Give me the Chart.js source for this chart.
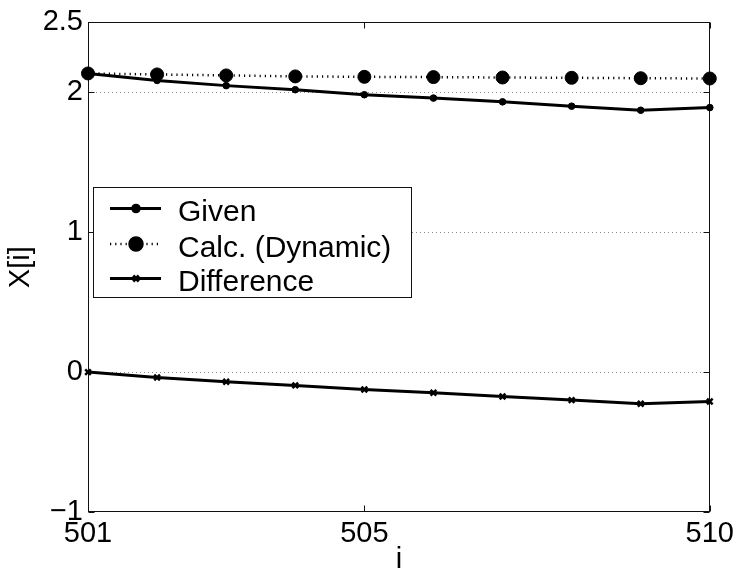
<!DOCTYPE html>
<html><head><meta charset="utf-8">
<script src="https://cdn.jsdelivr.net/npm/chart.js@4"></script>
<style>html,body{margin:0;padding:0;background:#fff}#c{display:block}</style>
</head><body>
<canvas id="c" width="739" height="577"></canvas>
<script>
const indices = [501, 502, 503, 504, 505, 506, 507, 508, 509, 510];
const given   = [2.135, 2.085, 2.048, 2.019, 1.983, 1.959, 1.932, 1.901, 1.872, 1.891];
const calc    = [2.135, 2.128, 2.121, 2.114, 2.111, 2.109, 2.106, 2.104, 2.101, 2.099];
const diff    = [0.000, -0.038, -0.069, -0.095, -0.124, -0.148, -0.174, -0.200, -0.226, -0.210];
const xTicks = [501, 505, 510];
const yTicks = [-1, 0, 1, 2, 2.5];
const gridValues = [0, 1, 2];
const seriesNames = ['Given', 'Calc. (Dynamic)', 'Difference'];
const xTitle = 'i';
const yTitle = 'X[i]';

const FONT = "'Liberation Sans', Arial, Helvetica, sans-serif";
const pts = arr => arr.map((v, i) => ({x: indices[i], y: v}));

const styles = [
  {borderColor:'#000', backgroundColor:'#000', borderWidth:3, borderDash:[], pointStyle:'circle', pointRadius:3.3, pointBorderWidth:1},
  {borderColor:'#000', backgroundColor:'#000', borderWidth:2.5, borderDash:[1.2,4], pointStyle:'circle', pointRadius:6.5, pointBorderWidth:1},
  {borderColor:'#000', backgroundColor:'#000', borderWidth:3, borderDash:[], pointStyle:'crossRot', pointRadius:4, pointBorderWidth:2.5}
];

const framePlugin = {
  id: 'frame',
  beforeDatasetsDraw(chart) {
    const {ctx, chartArea: a, scales: {x, y}} = chart;
    ctx.save();
    ctx.strokeStyle = '#8a8a8a'; ctx.lineWidth = 1; ctx.setLineDash([1, 3]);
    gridValues.forEach(v => {
      const py = Math.round(y.getPixelForValue(v)) + 0.5;
      ctx.beginPath(); ctx.moveTo(a.left, py); ctx.lineTo(a.right, py); ctx.stroke();
    });
    ctx.setLineDash([]);
    ctx.strokeStyle = '#111'; ctx.lineWidth = 1;
    const L = Math.round(a.left) + 0.5, R = Math.round(a.right) - 0.5, T = Math.round(a.top) + 0.5, B = Math.round(a.bottom) - 0.5;
    ctx.strokeRect(L, T, R - L, B - T);
    const tl = 6;
    ctx.beginPath();
    xTicks.forEach(v => {
      const px = Math.round(x.getPixelForValue(v)) + 0.5;
      ctx.moveTo(px, B); ctx.lineTo(px, B - tl);
      ctx.moveTo(px, T); ctx.lineTo(px, T + tl);
    });
    yTicks.forEach(v => {
      const py = Math.round(y.getPixelForValue(v)) + 0.5;
      ctx.moveTo(L, py); ctx.lineTo(L + tl, py);
      ctx.moveTo(R, py); ctx.lineTo(R - tl, py);
    });
    ctx.stroke();
    ctx.restore();
  },
  afterDraw(chart) {
    const {ctx} = chart;
    const box = {l: 93, t: 187, r: 412, b: 298};
    ctx.save();
    ctx.fillStyle = '#fff';
    ctx.fillRect(box.l, box.t, box.r - box.l, box.b - box.t);
    ctx.strokeStyle = '#111'; ctx.lineWidth = 1;
    ctx.strokeRect(box.l + 0.5, box.t + 0.5, box.r - box.l - 1, box.b - box.t - 1);
    const rows = [208.5, 244, 278.5];
    rows.forEach((ry, i) => {
      const s = styles[i];
      ctx.save();
      ctx.strokeStyle = s.borderColor; ctx.lineWidth = s.borderWidth; ctx.setLineDash(s.borderDash);
      ctx.beginPath(); ctx.moveTo(110, ry); ctx.lineTo(161, ry); ctx.stroke();
      ctx.setLineDash([]);
      ctx.fillStyle = '#000'; ctx.strokeStyle = '#000';
      Chart.helpers.drawPoint(ctx, {pointStyle: s.pointStyle, radius: s.pointRadius, borderWidth: s.pointBorderWidth, rotation: 0}, 136, ry);
      ctx.restore();
      ctx.fillStyle = '#000';
      ctx.font = '30px ' + FONT;
      ctx.textBaseline = 'alphabetic'; ctx.textAlign = 'left';
      ctx.fillText(seriesNames[i], 178, ry + 12.5);
    });
    ctx.restore();
  }
};

new Chart(document.getElementById('c'), {
  type: 'line',
  data: {
    datasets: [given, calc, diff].map((arr, i) => ({
      label: seriesNames[i],
      data: pts(arr),
      borderColor: styles[i].borderColor,
      backgroundColor: styles[i].backgroundColor,
      borderWidth: styles[i].borderWidth,
      borderDash: styles[i].borderDash,
      pointStyle: styles[i].pointStyle,
      pointRadius: styles[i].pointRadius,
      pointBorderWidth: styles[i].pointBorderWidth,
      pointBackgroundColor: '#000',
      pointBorderColor: '#000',
      tension: 0,
      fill: false,
      clip: false,
      order: i === 1 ? 0 : 1
    }))
  },
  options: {
    responsive: false,
    animation: false,
    events: [],
    layout: {padding: {top: 22, right: 29, left: 0, bottom: 0}},
    plugins: {legend: {display: false}, tooltip: {enabled: false}},
    scales: {
      x: {
        type: 'linear', min: 501, max: 510,
        afterBuildTicks: s => { s.ticks = xTicks.map(v => ({value: v})); },
        afterFit: s => { s.height = 65; },
        grid: {display: false, drawTicks: false},
        border: {display: false},
        ticks: {color: '#000', font: {family: FONT, size: 29}, padding: 5, maxRotation: 0, autoSkip: false},
        title: {display: true, text: xTitle, color: '#000', font: {family: FONT, size: 29}, padding: {top: 0, bottom: 0}}
      },
      y: {
        type: 'linear', min: -1, max: 2.5,
        afterBuildTicks: s => { s.ticks = yTicks.map(v => ({value: v})); },
        afterFit: s => { s.width = 88; },
        grid: {display: false, drawTicks: false},
        border: {display: false},
        ticks: {color: '#000', font: {family: FONT, size: 29}, padding: 5, autoSkip: false,
                callback: v => (v < 0 ? '\u2212' + Math.abs(v) : String(v))},
        title: {display: true, text: yTitle, color: '#000', font: {family: FONT, size: 29}, padding: {top: 4, bottom: 0}}
      }
    }
  },
  plugins: [framePlugin]
});
</script>
</body></html>
